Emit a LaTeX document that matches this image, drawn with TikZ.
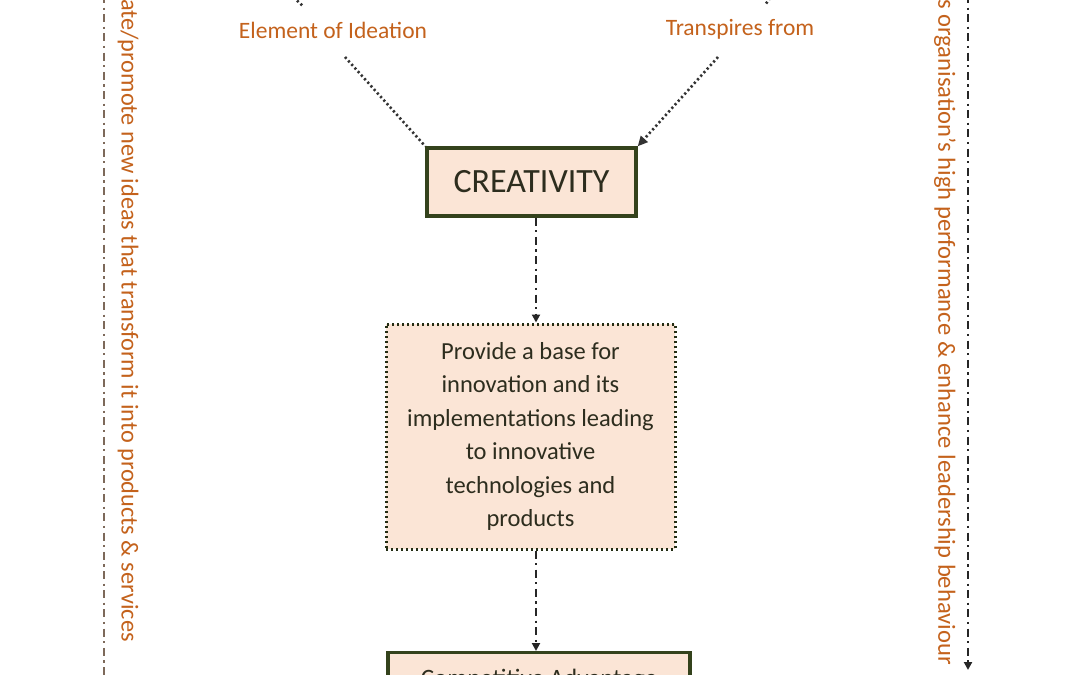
\documentclass[tikz,border=0pt]{standalone}
\usepackage{fontspec}
\setmainfont{Carlito}
\usetikzlibrary{arrows.meta}
\definecolor{peach}{RGB}{251,229,214}
\definecolor{olive}{RGB}{52,66,28}
\definecolor{orng}{RGB}{196,98,28}
\definecolor{boxtext}{RGB}{45,45,30}
\definecolor{lgray}{RGB}{125,105,90}
\begin{document}
\begin{tikzpicture}[x=1pt,y=-1pt,
  solidbox/.style={draw=olive,line width=3.4pt,fill=peach,inner sep=0pt},
  dotbox/.style={draw=olive!70!black,line width=3pt,dash pattern=on 2.4pt off 2.6pt,fill=peach,inner sep=0pt},
  lbl/.style={text=orng,font=\fontsize{23.5}{26}\selectfont,inner sep=0pt},
  sidelbl/.style={text=orng,font=\fontsize{24.3}{26}\selectfont,inner sep=0pt,rotate=-90},
  dotline/.style={draw=black!80,line width=2.6pt,dash pattern=on 2.2pt off 2.6pt},
  dashdot/.style={draw=black!85,line width=2pt,dash pattern=on 8pt off 4.5pt on 2.2pt off 4.5pt},
]
\useasboundingbox (0,0) rectangle (1080,675);
\clip (0,0) rectangle (1080,675);
\fill[white] (0,0) rectangle (1080,675);

% side lines
\coordinate (l1) at (104,-5);
\coordinate (l2) at (104,690);
\draw[dashdot,draw=lgray] (l1) -- (l2);
\coordinate (r1) at (968,-5);
\coordinate (r2) at (968,670);
\draw[dashdot,-{Triangle[length=8pt,width=8pt]}] (r1) -- (r2);

% side texts
\node[sidelbl,anchor=west] (lt) at (128,-1) {ate/promote new ideas that transform it into products \& services};
\node[sidelbl,anchor=west,font=\fontsize{24.6}{26}\selectfont] (rt) at (945,-1) {s organisation’s high performance \& enhance leadership behaviour};

% top labels
\node[lbl] (ei) at (333,30) {Element of Ideation};
\node[lbl] (tf) at (740,29) {Transpires from};

% top fragments
\coordinate (f1a) at (290,-6);
\coordinate (f1b) at (304,7);
\draw[dotline] (f1a) -- (f1b);
\coordinate (f2a) at (773,-6);
\coordinate (f2b) at (765,5);
\draw[dotline] (f2a) -- (f2b);

% boxes
\node[solidbox,minimum width=209pt,minimum height=68pt,font=\fontsize{34}{36}\selectfont,text=boxtext] (cr) at (531.5,182) {CREATIVITY};
\node[dotbox,minimum width=289pt,minimum height=225pt,text=boxtext,align=center,font=\fontsize{24.5}{33.5}\selectfont] (pb) at (530.5,436.5)
 {Provide a base for\\innovation and its\\implementations leading\\to innovative\\technologies and\\products};
\node[solidbox,minimum width=302pt,minimum height=80pt,anchor=north] (ca) at (539,651) {};
\node[text=boxtext,font=\fontsize{25}{28}\selectfont,anchor=base] (cat) at (539,686) {Competitive Advantage};

% connectors
\coordinate (ei1) at (345,57);
\coordinate (tf1) at (718,57);
\draw[dotline] (ei1) -- (cr.north west);
\draw[dotline,-{Triangle[length=10pt,width=9pt]}] (tf1) -- (cr.north east);
\draw[dashdot,-{Triangle[length=8pt,width=8pt]}] (cr.south -| 536,0) -- (pb.north -| 536,0);
\draw[dashdot,-{Triangle[length=8pt,width=8pt]}] (pb.south -| 536,0) -- (ca.north -| 536,0);
\end{tikzpicture}
\end{document}
